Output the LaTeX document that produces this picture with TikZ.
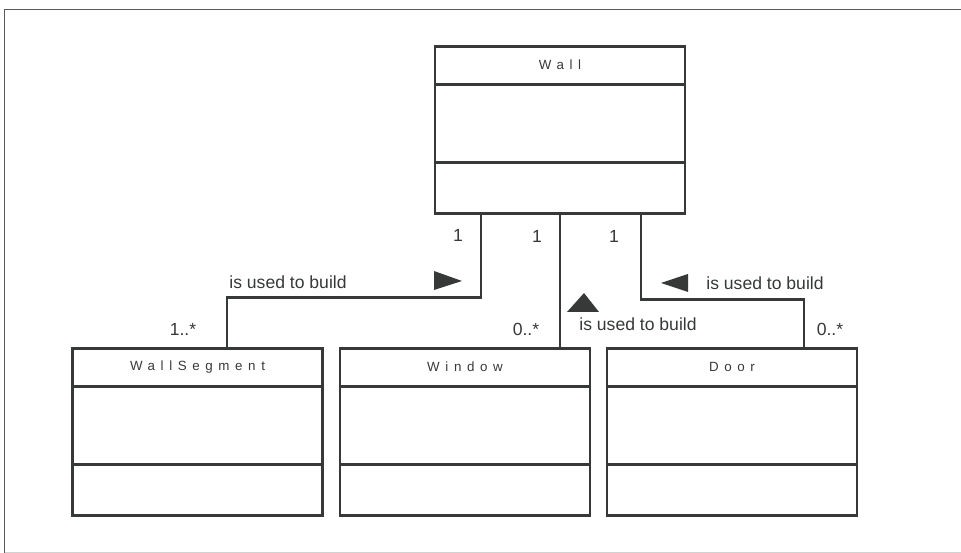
\documentclass[tikz,border=0pt]{standalone}
\usepackage{fontspec}
\setmainfont{Liberation Sans}
\newfontfamily\classfont[LetterSpace=42]{Liberation Sans}
\usepackage{tikz}
\usetikzlibrary{calc}
\definecolor{inkgray}{HTML}{363938}

\begin{document}
\begin{tikzpicture}[x=0.02cm, y=-0.02cm,
    umlclass/.style={draw=inkgray, line width=1.2pt, minimum width=5cm, minimum height=3.34cm, inner sep=0pt},
    classname/.style={font=\classfont\fontsize{7.6}{9}\selectfont, text=inkgray},
    mult/.style={font=\fontsize{10}{12}\selectfont, text=inkgray, inner sep=0pt},
    assoc/.style={draw=inkgray, line width=1.2pt},
    dirmark/.style={fill=inkgray}
]
    \useasboundingbox (0,0) rectangle (961,553);
    \draw[gray!70!black, line width=0.9pt] (961,9.5) -- (4.5,9.5) -- (4.5,553);
    \draw[gray!35, line width=0.5pt] (4.5,552) -- (961,552);

    % classes
    \node[umlclass] (wall) at (560,130) {};
    \node[umlclass] (wseg) at (197.5,432) {};
    \node[umlclass] (window) at (465,432) {};
    \node[umlclass] (door) at (732,432) {};

    \foreach \c in {wall,wseg,window,door} {
        \draw[inkgray, line width=1.2pt] ($(\c.north west)+(0,39)$) -- ($(\c.north east)+(0,39)$);
        \draw[inkgray, line width=1.2pt] ($(\c.north west)+(0,117)$) -- ($(\c.north east)+(0,117)$);
    }

    \node[classname] (wallname) at ($(wall.north)+(0,19.5)$) {Wall};
    \node[classname] (wsegname) at ($(wseg.north)+(0,19.5)$) {WallSegment};
    \node[classname] (windowname) at ($(window.north)+(0,19.5)$) {Window};
    \node[classname] (doorname) at ($(door.north)+(0,19.5)$) {Door};

    % associations
    \draw[assoc] ([xshift=-1.58cm]wall.south) -- ++(0,83) -| ([xshift=0.59cm]wseg.north);
    \draw[assoc] (wall.south) -- (wall.south |- window.north);
    \draw[assoc] ([xshift=1.62cm]wall.south) -- ++(0,85) -| ([xshift=1.44cm]door.north);

    \fill[dirmark] (434,271) -- (462,281) -- (434,290) -- cycle;
    \fill[dirmark] (567,312) -- (584,293) -- (599,312) -- cycle;
    \fill[dirmark] (688,274) -- (661,283) -- (688,292) -- cycle;

    \node[mult] (ma) at (458,235) {1};
    \node[mult] (mb) at (537,236) {1};
    \node[mult] (mc) at (614,236) {1};
    \node[mult] (mwseg) at (183,329) {1..*};
    \node[mult] (mwindow) at (526,329) {0..*};
    \node[mult] (mdoor) at (830,329) {0..*};
    \node[mult] (usea) at (288,282) {is used to build};
    \node[mult] (useb) at (638,324) {is used to build};
    \node[mult] (usec) at (765,283) {is used to build};
\end{tikzpicture}
\end{document}
